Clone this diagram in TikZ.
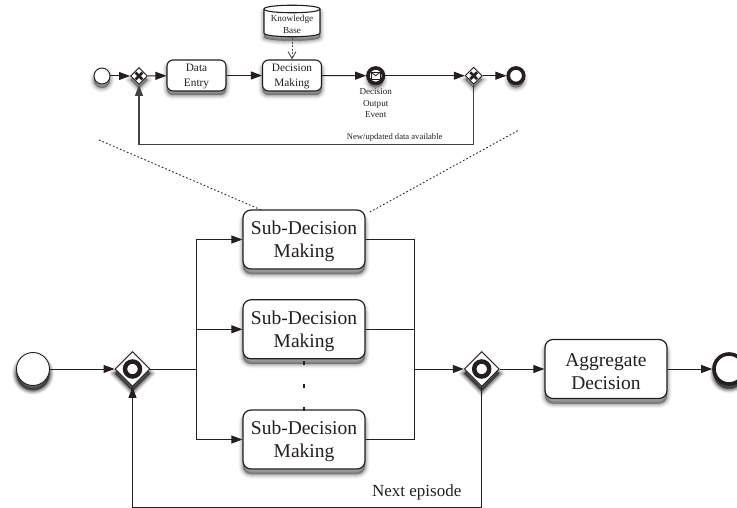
\documentclass[tikz,border=0pt]{standalone}
\usepackage{fontspec}
\setmainfont{Liberation Serif}
\usetikzlibrary{arrows.meta,shapes.geometric}
\definecolor{ink}{HTML}{231F20}
\newcommand{\lowbig}{\rule{0pt}{17.6pt}}
\newcommand{\lowsmall}{\rule{0pt}{10pt}}
\tikzset{
  softshadow/.style={
    preaction={draw=black,fill=black,line width=9pt,opacity=.04,transform canvas={yshift=-#1}},
    preaction={draw=black,fill=black,line width=7pt,opacity=.06,transform canvas={yshift=-#1}},
    preaction={draw=black,fill=black,line width=5pt,opacity=.08,transform canvas={yshift=-#1}},
    preaction={draw=black,fill=black,line width=3pt,opacity=.1,transform canvas={yshift=-#1}},
    preaction={draw=black,fill=black,line width=1pt,opacity=.12,transform canvas={yshift=-#1}}},
  softshadow/.default=5pt,
  bigtask/.style={draw=ink,fill=white,line width=1.2pt,rounded corners=8pt,softshadow,
    minimum width=122pt,minimum height=59pt,inner sep=0pt,align=center,text=ink,
    font=\fontsize{19.5}{22.8}\selectfont},
  smalltask/.style={draw=ink,fill=white,line width=1.1pt,rounded corners=6pt,softshadow=4pt,
    minimum height=31pt,inner sep=0pt,align=center,text=ink,
    font=\fontsize{11.3}{15}\selectfont},
  thinevent/.style={circle,draw=ink,fill=white,inner sep=0pt,line width=.9pt,softshadow=4pt},
  thickevent/.style={circle,draw=ink,fill=white,inner sep=0pt,line width=3.6pt,softshadow=4pt},
  gate/.style={diamond,draw=ink,fill=white,inner sep=0pt,aspect=1,line width=.9pt,softshadow=4pt},
  ringmark/.style={circle,draw=ink,fill=white,inner sep=0pt,line width=4.5pt,minimum size=15pt},
  flow/.style={draw=ink,line width=1pt,-{Triangle[length=11pt,width=8pt]}},
  plainflow/.style={draw=ink,line width=1pt},
  loopflow/.style={draw=ink!85,line width=1.2pt,-{Triangle[length=11pt,width=8pt]}},
  assoc/.style={draw=ink!80,line width=.8pt,dash pattern=on 2pt off 1.5pt},
  zoomline/.style={draw=ink,line width=.9pt,dash pattern=on 1.6pt off 2.2pt},
  caption/.style={inner sep=0pt,align=center,text=ink,font=\fontsize{9.1}{11.5}\selectfont},
}
\begin{document}
\begin{tikzpicture}[x=1pt,y=-1pt]
\useasboundingbox (0,0) rectangle (737,508);
\clip (0,0) rectangle (737,508);

% ---- detail process (top)
\node[thinevent,minimum size=16pt] (ts) at (102,76) {};
\node[gate,minimum size=17pt] (tg1) at (139,76) {};
\draw[ink,line width=2.8pt] (135.6,72.6) -- (142.4,79.4) (135.6,79.4) -- (142.4,72.6);
\node[smalltask,minimum width=59pt] (de) at (196.5,75.5) {\lowsmall Data\\Entry};
\node[smalltask,minimum width=59pt] (dm) at (292,75.5) {\lowsmall Decision\\Making};
% knowledge base cylinder
\path[draw=ink,fill=white,line width=1.1pt,softshadow=4pt]
  (264,9) .. controls (264,4) and (320,4) .. (320,9) -- (320,33)
  .. controls (320,38) and (264,38) .. (264,33) -- cycle;
\draw[ink,line width=1.1pt] (264,9) .. controls (264,14) and (320,14) .. (320,9);
\node[inner sep=0pt,align=center,text=ink,font=\fontsize{9.2}{12}\selectfont,minimum width=56pt,minimum height=32pt] (kb) at (292,22) {\rule{0pt}{12pt}Knowledge\\Base};
\node[thickevent,minimum size=15.5pt] (ev) at (375.7,75.7) {};
\node[draw=ink,fill=white,line width=.8pt,minimum width=9pt,minimum height=6.5pt,inner sep=0pt] (env) at (375.7,75.7) {};
\draw[ink,line width=.8pt] (env.north west) -- (env.center) -- (env.north east);
\node[gate,minimum size=17pt] (tg2) at (473.7,75.7) {};
\draw[ink,line width=2.8pt] (470.3,72.3) -- (477.1,79.1) (470.3,79.1) -- (477.1,72.3);
\node[thickevent,minimum size=15.5pt] (te) at (516,75.7) {};
\node[caption] (evt) at (375.7,103.5) {Decision\\Output\\Event};
\node[caption,font=\fontsize{8.6}{10}\selectfont] (nu) at (394.7,137) {New/updated data available};

\draw[flow] (ts) -- (tg1);
\draw[flow] (tg1) -- (de);
\draw[flow] (de) -- (dm);
\draw[flow] (dm) -- (ev);
\draw[flow] (ev) -- (tg2);
\draw[flow] (tg2) -- (te);
\draw[assoc,-{Straight Barb[length=7pt,width=8pt,line width=.9pt]}] (kb) -- (dm);
\coordinate (tl1) at (473.7,144.7);
\coordinate (tl2) at (139,144.7);
\draw[loopflow] (tg2) -- (tl1) -- (tl2) -- (tg1);

% ---- zoom lines
\coordinate (zl1) at (99,140);
\coordinate (zl2) at (266,212);
\coordinate (zr1) at (517.7,130.7);
\coordinate (zr2) at (370,212);
\draw[zoomline] (zl1) -- (zl2);
\draw[zoomline] (zr1) -- (zr2);

% ---- main process
\node[thinevent,minimum size=33pt,softshadow=5pt] (s) at (33,369) {};
\node[gate,minimum size=35pt,softshadow=5pt] (g1) at (132.5,369) {};
\node[ringmark] (r1) at (132.5,369) {};
\node[bigtask] (b1) at (304,239.5) {\lowbig Sub-Decision\\Making};
\node[bigtask] (b2) at (304,329.3) {\lowbig Sub-Decision\\Making};
\node[bigtask] (b3) at (304,439.5) {\lowbig Sub-Decision\\Making};
\node[gate,minimum size=35pt,softshadow=5pt] (g2) at (481.7,369) {};
\node[ringmark] (r2) at (481.7,369) {};
\node[bigtask] (ag) at (606,369) {\lowbig Aggregate\\Decision};
\node[thickevent,minimum size=30pt,softshadow=5pt] (e) at (729,369) {};
\node[inner sep=0pt,text=ink,font=\fontsize{17}{20}\selectfont] (ne) at (416.7,492.5) {Next episode};

\coordinate (j1) at (196,369);
\coordinate (j2) at (414.7,369);
\coordinate (l1) at (481.7,507);
\coordinate (l2) at (132.5,507);

\draw[flow] (s) -- (g1);
\draw[plainflow] (g1) -- (j1);
\draw[flow] (j1) |- (b1.west);
\draw[flow] (j1) |- (b2.west);
\draw[flow] (j1) |- (b3.west);
\draw[plainflow] (b1.east) -| (j2);
\draw[plainflow] (b2.east) -| (j2);
\draw[plainflow] (b3.east) -| (j2);
\draw[flow] (j2) -- (g2);
\draw[flow] (g2) -- (ag);
\draw[flow] (ag) -- (e);
\draw[flow] (g2) -- (l1) -- (l2) -- (g1);

\foreach \yy/\nm in {362.7/d1,385.7/d2,409/d3}
  \node[fill=ink,minimum width=2pt,minimum height=3.6pt,inner sep=0pt] (\nm) at (304,\yy) {};
\end{tikzpicture}
\end{document}
